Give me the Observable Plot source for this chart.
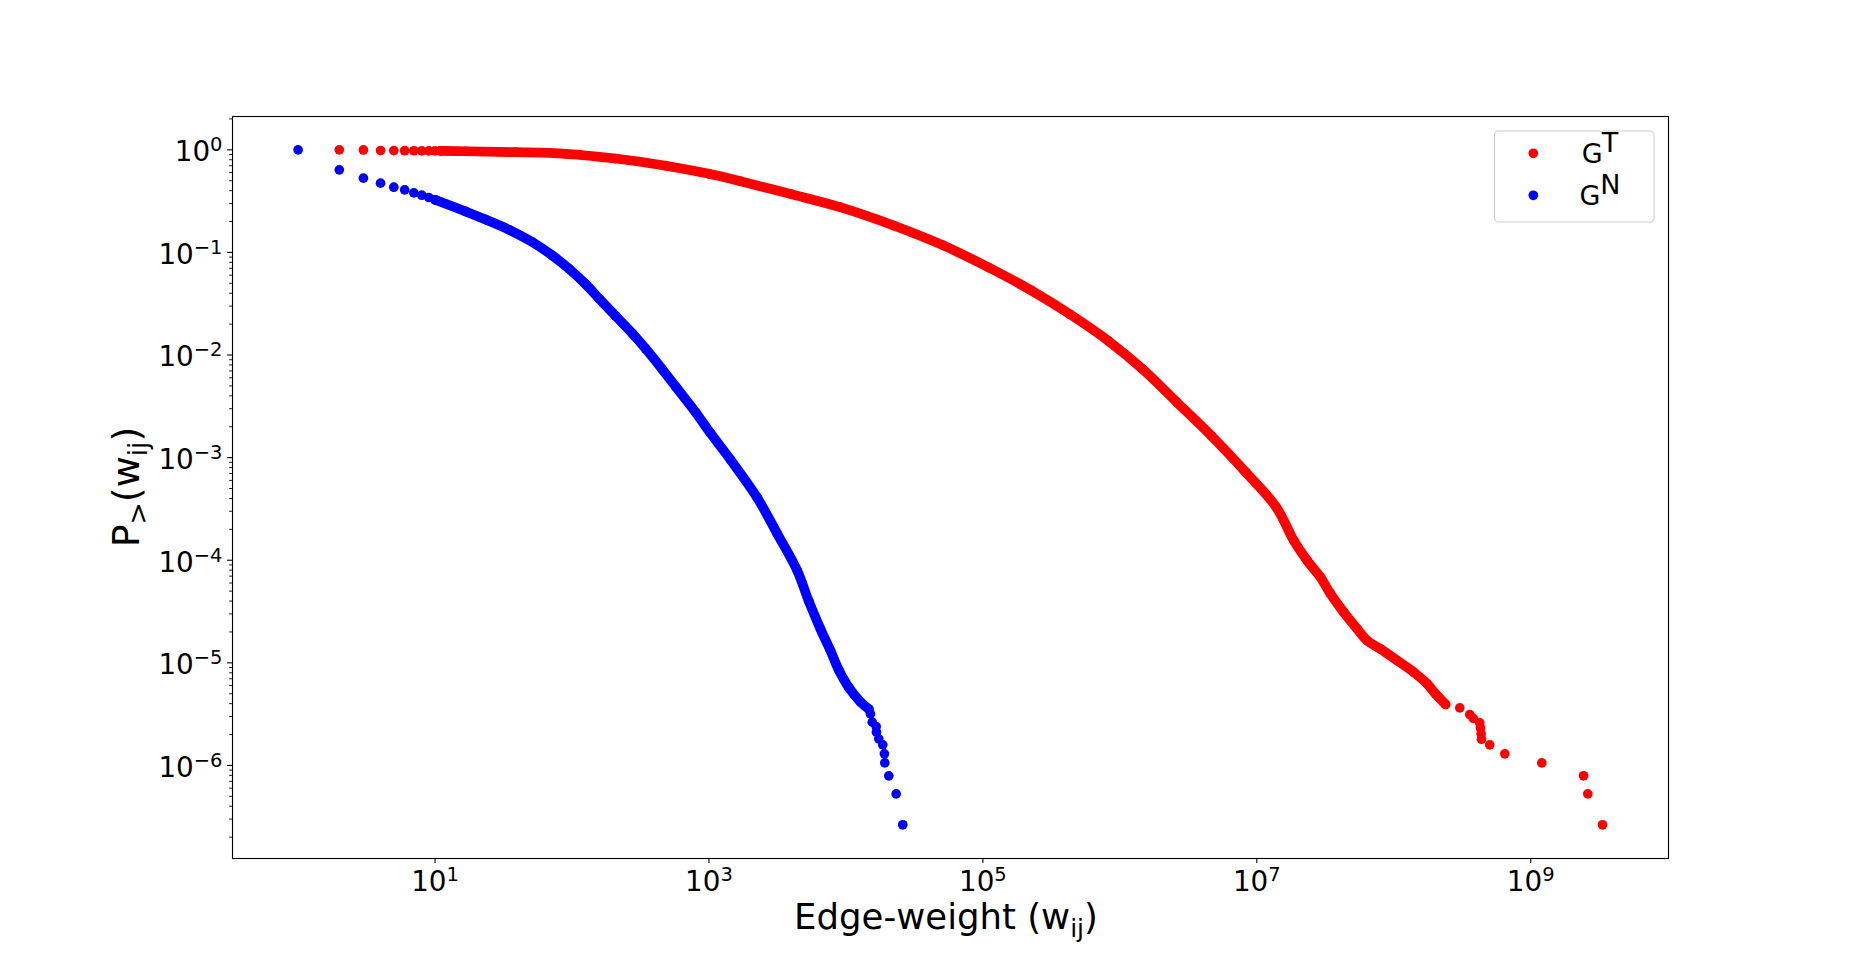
<!DOCTYPE html>
<html><head><meta charset="utf-8">
<script src="https://cdn.jsdelivr.net/npm/d3@7"></script>
<script src="https://cdn.jsdelivr.net/npm/@observablehq/plot@0.6"></script>
<style>html,body{margin:0;padding:0;background:#fff;overflow:hidden}</style>
</head><body><div id="chart"></div>
<script>
// ---------- data ----------
const seriesNames = ["GT", "GN"];
const seriesColors = ["#ff0000", "#0000ff"];

// G^T (red): discrete head, dense band, discrete tail
const gtHeadW = [2, 3, 4, 5, 6, 7, 8, 9, 10, 11];
const gtHeadP = [1.0, 0.997, 0.985, 0.982, 0.98, 0.979, 0.978, 0.977, 0.976, 0.975];
const gtBandW = [11, 16.7, 38.8, 90, 208, 484, 1002, 1700, 3926, 9057, 22284, 51404, 111430, 225940, 429540, 818450,
  1.459e6, 2.606e6, 4.645e6, 8.299e6, 1.387e7, 1.862e7, 2.333e7, 2.917e7, 3.451e7, 4.315e7, 5.408e7, 6.397e7,
  8.0e7, 1.059e8, 1.4e8, 1.754e8, 2.018e8, 2.388e8];
const gtBandP = [0.975, 0.968, 0.948, 0.914, 0.822, 0.70, 0.583, 0.494, 0.372, 0.276, 0.183, 0.117, 0.0708, 0.0426, 0.0251, 0.01384,
  0.00733, 0.00347, 0.00164, 7.21e-4, 3.29e-4, 1.556e-4, 9.93e-5, 6.82e-5, 4.71e-5, 3.11e-5, 2.14e-5, 1.648e-5,
  1.368e-5, 1.052e-5, 8.09e-6, 6.24e-6, 4.99e-6, 3.93e-6];
const gtTailW = [3.034e8, 3.589e8, 3.802e8, 4.246e8, 4.295e8, 4.345e8, 4.375e8, 5.023e8, 6.471e8, 1.205e9, 2.432e9, 2.612e9, 3.342e9];
const gtTailP = [3.64e-6, 3.13e-6, 2.88e-6, 2.60e-6, 2.32e-6, 2.03e-6, 1.80e-6, 1.589e-6, 1.297e-6, 1.059e-6, 7.93e-7, 5.28e-7, 2.64e-7];

// G^N (blue)
const gnHeadW = [1, 2, 3, 4, 5, 6, 7, 8, 9, 10];
const gnHeadP = [1.0, 0.638, 0.529, 0.473, 0.432, 0.407, 0.381, 0.361, 0.343, 0.326];
const gnBandW = [10, 16.7, 23.4, 34.8, 51.4, 71.9, 95.3, 125.9, 157.8, 208.4, 276.1, 345.9, 457.1, 572.8, 801.7, 1023, 1435,
  2249, 3148, 4406, 5358, 6516, 7709, 8872, 10495, 12764, 14689];
const gnBandP = [0.326, 0.251, 0.209, 0.166, 0.126, 0.0933, 0.0692, 0.049, 0.0355, 0.024, 0.0162, 0.01148, 0.00724, 0.0049, 0.00275, 0.00174, 9.55e-4,
  4.07e-4, 1.82e-4, 7.94e-5, 3.98e-5, 2.14e-5, 1.318e-5, 8.51e-6, 5.75e-6, 4.17e-6, 3.55e-6];
const gnTailW = [15100, 15560, 16630, 16710, 17380, 18580, 19100, 19230, 20560, 23280, 26000];
const gnTailP = [3.18e-6, 2.64e-6, 2.39e-6, 2.11e-6, 1.816e-6, 1.589e-6, 1.297e-6, 1.059e-6, 7.92e-7, 5.28e-7, 2.64e-7];

// axis ticks (exponents of 10)
const xTickExps = [1, 3, 5, 7, 9];
const yTickExps = [0, -1, -2, -3, -4, -5, -6];
const xDomain = [0.332, 1.014e10];
const yDomain = [1.239e-7, 2.112];

// ---------- tables ----------
const toRows = (W, P, s) => W.map((w, i) => ({w, p: P[i], s}));
const gtBand = toRows(gtBandW, gtBandP, 0);
const gnBand = toRows(gnBandW, gnBandP, 1);
const gtAll = [...toRows(gtHeadW, gtHeadP, 0), ...gtBand, ...toRows(gtTailW, gtTailP, 0)];
const gnAll = [...toRows(gnHeadW, gnHeadP, 1), ...gnBand, ...toRows(gnTailW, gnTailP, 1)];

const minorY = [];
for (let k = -7; k <= 0; k++) for (let m = 2; m <= 9; m++) {
  const v = m * Math.pow(10, k);
  if (v > yDomain[0] && v < yDomain[1]) minorY.push(v);
}
const expStr = e => "10^" + (e < 0 ? "\u2212" + (-e) : String(e));
const FONT = "DejaVu Sans";
const R = 4.85;

const plot = Plot.plot({
  width: 1853, height: 964,
  marginLeft: 232, marginRight: 185, marginTop: 116, marginBottom: 106,
  style: {background: "white", fontFamily: FONT, maxWidth: "none"},
  x: {type: "log", domain: xDomain, axis: null},
  y: {type: "log", domain: yDomain, axis: null},
  marks: [
    Plot.line(gtBand, {x: "w", y: "p", stroke: seriesColors[0], strokeWidth: 2 * R, strokeLinecap: "round", strokeLinejoin: "round", curve: "catmull-rom"}),
    Plot.dot(gtAll, {x: "w", y: "p", r: R, fill: seriesColors[0], stroke: "none"}),
    Plot.line(gnBand, {x: "w", y: "p", stroke: seriesColors[1], strokeWidth: 2 * R, strokeLinecap: "round", strokeLinejoin: "round", curve: "catmull-rom"}),
    Plot.dot(gnAll, {x: "w", y: "p", r: R, fill: seriesColors[1], stroke: "none"}),
    Plot.frame({stroke: "black", strokeWidth: 1.1}),
    Plot.axisX(xTickExps.map(e => Math.pow(10, e)), {tickSize: 4.9, tickFormat: () => "", label: null, stroke: "black", strokeWidth: 1.1}),
    Plot.axisY(yTickExps.map(e => Math.pow(10, e)), {tickSize: 4.9, tickFormat: () => "", label: null, stroke: "black", strokeWidth: 1.1}),
    Plot.axisY(minorY, {tickSize: 2.8, tickFormat: () => "", label: null, stroke: "black", strokeWidth: 0.9}),
    Plot.text(xTickExps, {x: e => Math.pow(10, e), text: expStr, frameAnchor: "bottom", lineAnchor: "bottom", dy: 32.7,
      fontSize: 27.8, fill: "black", fontFamily: FONT}),
    Plot.text(yTickExps, {y: e => Math.pow(10, e), text: expStr, frameAnchor: "left", textAnchor: "end", lineAnchor: "bottom", dx: -10, dy: 11.4,
      fontSize: 27.8, fill: "black", fontFamily: FONT})
  ]
});
document.getElementById("chart").appendChild(plot);

const ns = "http://www.w3.org/2000/svg";
function addSpan(el, txt, size, dy) {
  const t = document.createElementNS(ns, "tspan");
  if (size) t.setAttribute("font-size", size);
  if (dy) t.setAttribute("dy", dy);
  t.textContent = txt;
  el.appendChild(t);
  return t;
}
// superscripts on tick labels
Array.from(plot.querySelectorAll("text")).forEach(el => {
  const s = el.textContent;
  if (s.indexOf("^") < 0) return;
  const [base, sup] = s.split("^");
  while (el.firstChild) el.removeChild(el.firstChild);
  el.appendChild(document.createTextNode(base));
  addSpan(el, sup, 19.5, -10);
});

const svg = d3.select(plot);
// x label
const xl = svg.append("text").attr("x", 946).attr("y", 929).attr("text-anchor", "middle")
  .attr("font-family", FONT).attr("font-size", 35.5).attr("fill", "black").node();
addSpan(xl, "Edge-weight (w");
addSpan(xl, "ij", 25, 8);
addSpan(xl, ")", 35.5, -8);
// y label
const yl = svg.append("text").attr("transform", "translate(139,487) rotate(-90)").attr("text-anchor", "middle")
  .attr("font-family", FONT).attr("font-size", 38).attr("fill", "black").node();
addSpan(yl, "P");
addSpan(yl, ">", 26.5, 8);
addSpan(yl, "(w", 38, -8);
addSpan(yl, "ij", 26.5, 8);
addSpan(yl, ")", 38, -8);

// legend
const lg = svg.append("g");
lg.append("rect").attr("x", 1494.5).attr("y", 131).attr("width", 159.5).attr("height", 91).attr("rx", 4)
  .attr("fill", "white").attr("fill-opacity", 0.8).attr("stroke", "#cccccc").attr("stroke-width", 1.1);
seriesNames.forEach((name, i) => {
  const cy = 153.3 + i * 42;
  lg.append("circle").attr("cx", 1533.3).attr("cy", cy).attr("r", R).attr("fill", seriesColors[i]);
  const t = lg.append("text").attr("x", 1600).attr("y", cy + 10).attr("font-family", FONT).attr("font-size", 27).attr("fill", "black").node();
  addSpan(t, name[0]);
  addSpan(t, name.slice(1), 27, -11);
});
</script>
</body></html>
